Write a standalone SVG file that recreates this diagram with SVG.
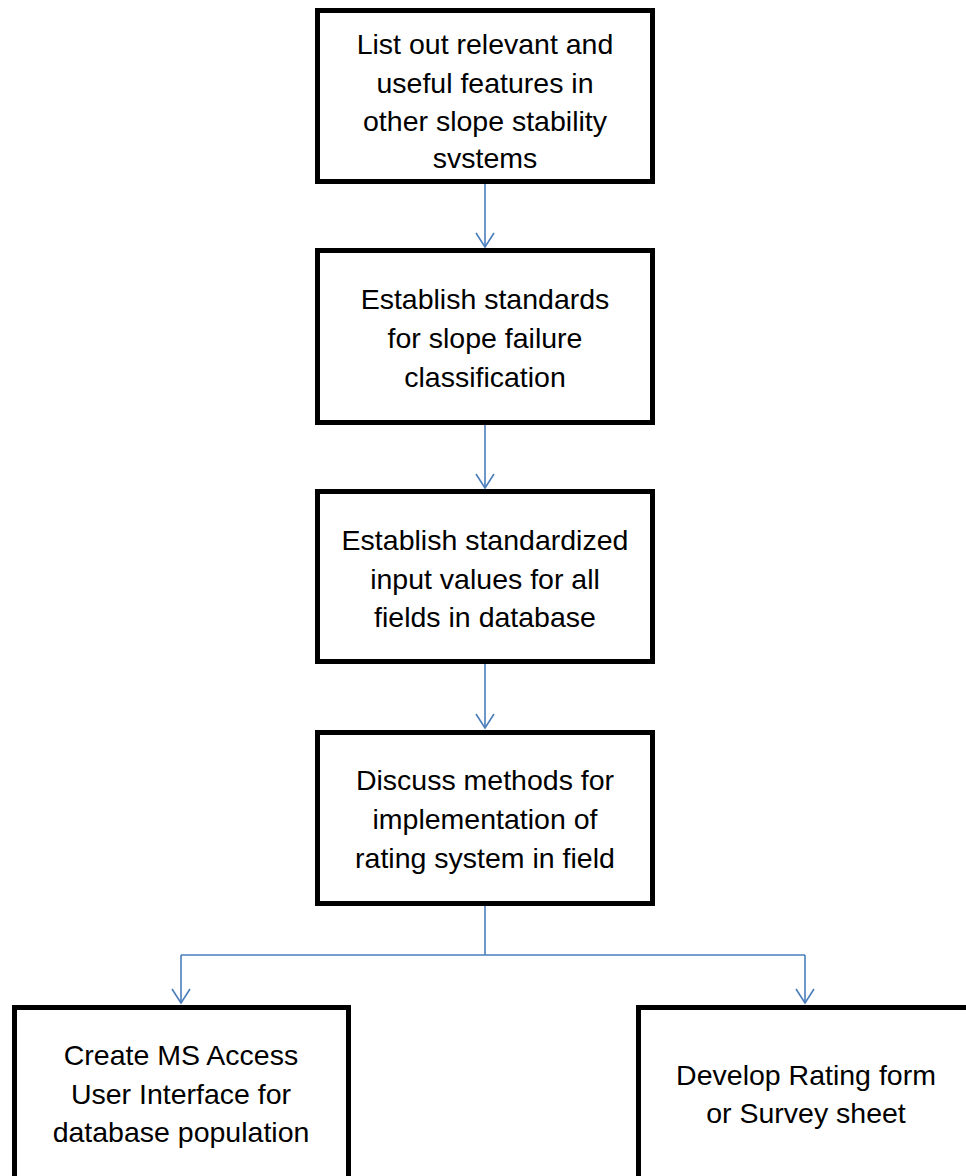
<svg xmlns="http://www.w3.org/2000/svg" width="966" height="1176" viewBox="0 0 966 1176">
<defs>
<style>
.box{fill:#fff;stroke:#000;stroke-width:5}
.t{font-family:"Liberation Sans",Arial,sans-serif;font-size:28.5px;fill:#000;text-anchor:middle}
.c{fill:none;stroke:#4a7ebb;stroke-width:1.6}
</style>
<marker id="ah" markerWidth="18" markerHeight="22" refX="15" refY="10" orient="auto" markerUnits="userSpaceOnUse" viewBox="0 0 18 22">
<path d="M1 1 L15 10 L1 19" fill="none" stroke="#4a7ebb" stroke-width="1.6"/>
</marker>
</defs>
<g id="connectors">
<path class="c" d="M485 184 V247" marker-end="url(#ah)"/>
<path class="c" d="M485 425 V488" marker-end="url(#ah)"/>
<path class="c" d="M485 664 V728" marker-end="url(#ah)"/>
<path class="c" d="M485 906 V955"/>
<path class="c" d="M181 955 H805"/>
<path class="c" d="M181 955 V1003" marker-end="url(#ah)"/>
<path class="c" d="M805 955 V1003" marker-end="url(#ah)"/>
</g>
<g id="n1">
<rect class="box" x="317.5" y="10.5" width="335" height="171"/>
<text class="t" x="485" y="54">List out relevant and</text>
<text class="t" x="485" y="93">useful features in</text>
<text class="t" x="485" y="131">other slope stability</text>
<text class="t" x="485" y="168">svstems</text>
</g>
<g id="n2">
<rect class="box" x="317.5" y="250.5" width="335" height="172"/>
<text class="t" x="485" y="309">Establish standards</text>
<text class="t" x="485" y="348">for slope failure</text>
<text class="t" x="485" y="387">classification</text>
</g>
<g id="n3">
<rect class="box" x="317.5" y="491.5" width="335" height="170"/>
<text class="t" x="485" y="550">Establish standardized</text>
<text class="t" x="485" y="589">input values for all</text>
<text class="t" x="485" y="627">fields in database</text>
</g>
<g id="n4">
<rect class="box" x="317.5" y="732.5" width="335" height="171"/>
<text class="t" x="485" y="790">Discuss methods for</text>
<text class="t" x="485" y="829">implementation of</text>
<text class="t" x="485" y="868">rating system in field</text>
</g>
<g id="n5">
<rect class="box" x="14.5" y="1007.5" width="334" height="180"/>
<text class="t" x="181" y="1065">Create MS Access</text>
<text class="t" x="181" y="1104">User Interface for</text>
<text class="t" x="181" y="1142">database population</text>
</g>
<g id="n6">
<rect class="box" x="638.5" y="1007.5" width="340" height="180"/>
<text class="t" x="806" y="1085">Develop Rating form</text>
<text class="t" x="806" y="1123">or Survey sheet</text>
</g>
</svg>
